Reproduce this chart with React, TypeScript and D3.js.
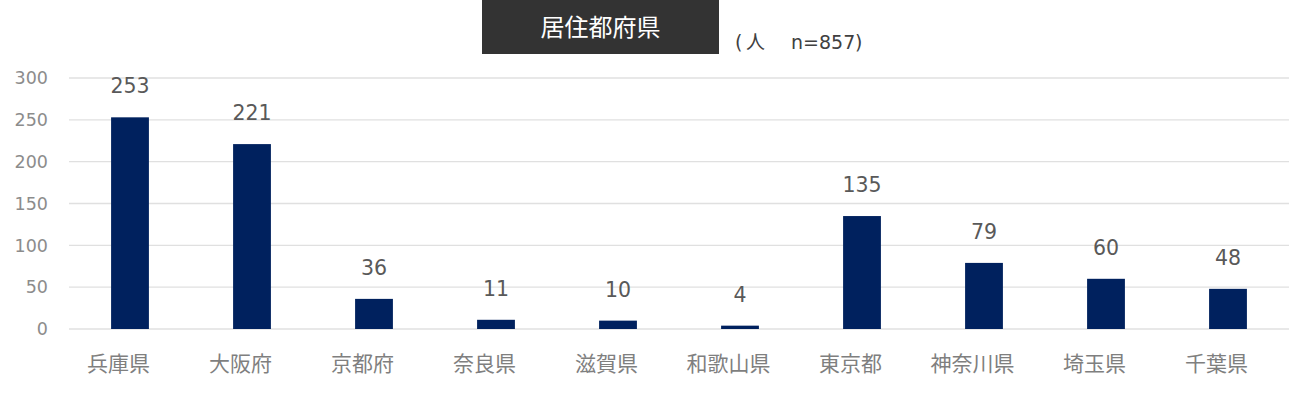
import * as d3 from "d3";

const prefectures = ["兵庫県", "大阪府", "京都府", "奈良県", "滋賀県", "和歌山県", "東京都", "神奈川県", "埼玉県", "千葉県"];
const counts = [253, 221, 36, 11, 10, 4, 135, 79, 60, 48];
const yTicks = [0, 50, 100, 150, 200, 250, 300];
const title = "居住都府県";
const unitLabel = "人";
const sampleLabel = "n=857";

const width = 1312;
const height = 401;
const margin = { top: 78, right: 23, bottom: 72, left: 69 };
const font = "'DejaVu Sans', 'Noto Sans CJK JP', sans-serif";

const App = () => {
  const x = d3
    .scaleBand()
    .domain(prefectures)
    .range([margin.left, width - margin.right])
    .paddingInner(0.69)
    .paddingOuter(0.345);

  const y = d3.scaleLinear().domain([0, 300]).range([height - margin.bottom, margin.top]);

  return (
    <div style={{ position: "absolute", left: 0, top: 0 }}>
      <svg width={width} height={height} style={{ display: "block", fontFamily: font }}>
        <rect width={width} height={height} fill="#ffffff" />

        {yTicks.map((t) => (
          <g key={t}>
            <line
              x1={margin.left}
              x2={width - margin.right}
              y1={y(t)}
              y2={y(t)}
              stroke="#e0e0e0"
              strokeWidth={1.3}
            />
            <text x={48} y={y(t)} dy="0.36em" textAnchor="end" fontSize={17.5} fill="#8c8c8c">
              {t}
            </text>
          </g>
        ))}

        {prefectures.map((p, i) => {
          const cx = (x(p) ?? 0) + x.bandwidth() / 2;
          return (
            <g key={p}>
              <rect
                x={x(p)}
                y={y(counts[i])}
                width={x.bandwidth()}
                height={y(0) - y(counts[i])}
                fill="#00215e"
              />
              <text x={cx} y={y(counts[i]) - 24} textAnchor="middle" fontSize={20.5} fill="#595959">
                {counts[i]}
              </text>
              {/* category labels sit a little left of the bar centre in the original */}
              <text x={cx - 11.5} y={371} textAnchor="middle" fontSize={21} fill="#7f7f7f">
                {p}
              </text>
            </g>
          );
        })}

        <rect x={482} y={0} width={237} height={54} fill="#333333" />
        <text x={600.5} y={36} textAnchor="middle" fontSize={24} fill="#ffffff">
          {title}
        </text>
        <text y={49} fontSize={19} fill="#404040">
          <tspan x={735}>(</tspan>
          <tspan x={746}>{unitLabel}</tspan>
          <tspan x={791}>{sampleLabel}</tspan>
          <tspan x={855}>)</tspan>
        </text>
      </svg>
    </div>
  );
};

export default App;
